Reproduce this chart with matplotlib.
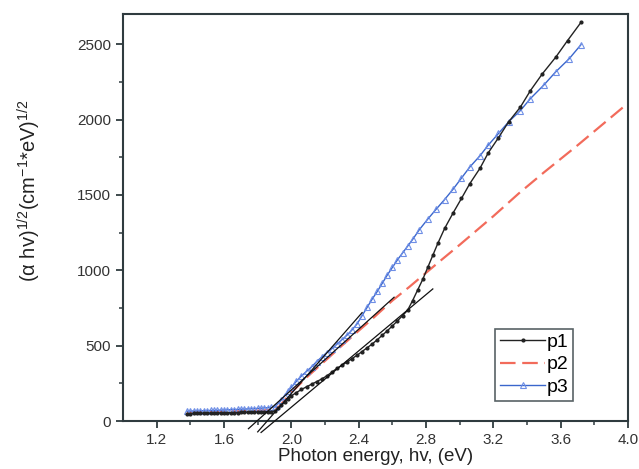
import matplotlib
matplotlib.use("Agg")
import matplotlib.pyplot as plt
from matplotlib.ticker import MultipleLocator, FixedLocator


# Données (énergie en eV, (alpha hv)^1/2)
p1_x = [1.38, 1.40, 1.42, 1.44, 1.46, 1.48, 1.50, 1.52, 1.54, 1.56, 1.58, 1.60, 1.62, 1.64,
        1.66, 1.68, 1.70, 1.72, 1.74, 1.76, 1.78, 1.80, 1.82, 1.84, 1.86, 1.88, 1.90,
        1.92, 1.94, 1.96, 1.98, 2.00, 2.03, 2.06, 2.09, 2.12, 2.15, 2.18, 2.21, 2.24,
        2.27, 2.30, 2.33, 2.36, 2.39, 2.42, 2.45, 2.48, 2.51, 2.54, 2.57, 2.60, 2.63,
        2.66, 2.69, 2.72, 2.75, 2.78, 2.81, 2.84, 2.87, 2.91, 2.96, 3.01, 3.06, 3.12,
        3.17, 3.23, 3.29, 3.36, 3.42, 3.49, 3.57, 3.64, 3.72]
p1_y = [50, 50, 51, 51, 52, 52, 53, 53, 54, 54, 55, 55, 56, 56,
        57, 57, 58, 58, 59, 59, 60, 61, 61, 62, 63, 64, 66,
        85, 105, 128, 150, 168, 190, 210, 228, 245, 262, 280, 300, 325,
        350, 370, 392, 415, 437, 462, 487, 512, 540, 570, 600, 632, 665,
        700, 735, 800, 870, 940, 1020, 1100, 1180, 1278, 1380, 1477, 1576, 1677,
        1781, 1880, 1985, 2083, 2193, 2303, 2414, 2524, 2645]

p2_x = [1.38, 1.46, 1.54, 1.62, 1.70, 1.78, 1.86, 1.90, 1.93, 1.96, 2.00, 2.05, 2.10,
        2.15, 2.20, 2.29, 2.40, 2.47, 2.60, 2.70, 2.87, 3.00, 3.20, 3.35, 3.50, 3.70,
        3.85, 4.00]
p2_y = [58, 60, 62, 64, 66, 69, 73, 76, 100, 140, 190, 245, 300,
        350, 400, 491, 600, 668, 800, 890, 1050, 1170, 1360, 1510, 1650, 1830,
        1970, 2110]

p3_x = [1.38, 1.40, 1.42, 1.44, 1.46, 1.48, 1.50, 1.52, 1.54, 1.56, 1.58, 1.60, 1.62, 1.64,
        1.66, 1.68, 1.70, 1.72, 1.74, 1.76, 1.78, 1.80, 1.82, 1.84, 1.86, 1.88, 1.90,
        1.92, 1.94, 1.96, 1.98, 2.00, 2.03, 2.06, 2.09, 2.12, 2.15, 2.18, 2.21, 2.24,
        2.27, 2.30, 2.33, 2.36, 2.39, 2.42, 2.45, 2.48, 2.51, 2.54, 2.57, 2.60, 2.63,
        2.66, 2.69, 2.72, 2.76, 2.81, 2.86, 2.91, 2.96, 3.01, 3.06, 3.12, 3.17, 3.23,
        3.29, 3.36, 3.42, 3.50, 3.57, 3.65, 3.72]
p3_y = [66, 67, 67, 68, 69, 69, 70, 71, 72, 72, 73, 74, 75, 76,
        77, 78, 79, 80, 81, 82, 83, 85, 86, 88, 89, 91, 94,
        115, 140, 170, 200, 225, 265, 300, 330, 360, 395, 425, 455, 480,
        510, 540, 570, 605, 645, 700, 755, 810, 860, 915, 970, 1020, 1070,
        1115, 1160, 1205, 1270, 1340, 1406, 1470, 1538, 1612, 1686, 1760, 1832, 1908,
        1985, 2060, 2140, 2230, 2317, 2404, 2497]

# Droites d'extrapolation (Tauc) : extrémités
fit_x = [[1.745, 2.61], [1.80, 2.42], [1.82, 2.84]]
fit_y = [[-50, 822], [-71, 720], [-75, 877]]

labels = ["p1", "p2", "p3"]


plt.rcParams["font.family"] = ["Liberation Sans", "DejaVu Sans"]
plt.rcParams["mathtext.default"] = "regular"

frame_color = "#2f3b3f"

fig = plt.figure(figsize=(6.39, 4.69), dpi=100)
ax = fig.add_axes([0.1925, 0.102, 0.7905, 0.868])

ax.plot(p2_x, p2_y, color="#f26b5b", lw=1.6, dashes=(7, 3), label=labels[1], zorder=2)
ax.plot(p3_x, p3_y, color="#3a66cc", lw=1.0, marker="^", markersize=4.5,
        markerfacecolor="none", markeredgecolor="#6f8fe6", markeredgewidth=0.8,
        label=labels[2], zorder=3)
ax.plot(p1_x, p1_y, color="#222222", lw=1.0, marker="o", markersize=2,
        label=labels[0], zorder=4)

for fx, fy in zip(fit_x, fit_y):
    ax.plot(fx, fy, color="#111111", lw=0.9, zorder=5, clip_on=False)

ax.set_xlim(1.0, 4.0)
ax.set_ylim(0, 2700)

ax.xaxis.set_major_locator(FixedLocator([1.2, 1.6, 2.0, 2.4, 2.8, 3.2, 3.6, 4.0]))
ax.xaxis.set_minor_locator(FixedLocator([1.4, 1.8, 2.2, 2.6, 3.0, 3.4, 3.8]))
ax.set_xticklabels(["1.2", "1.6", "2.0", "2.4", "2.8", "3.2", "3.6", "4.0"])
ax.yaxis.set_major_locator(MultipleLocator(500))
ax.yaxis.set_minor_locator(MultipleLocator(250))

ax.tick_params(axis="both", which="major", direction="out", length=5, width=1.3,
               color=frame_color, labelsize=11, labelcolor="#333333")
ax.tick_params(axis="both", which="minor", direction="out", length=3, width=1.1,
               color=frame_color)

for side in ax.spines.values():
    side.set_color(frame_color)
    side.set_linewidth(1.5)

ax.set_xlabel("Photon energy, hv, (eV)", fontsize=13.5, color="#222222", labelpad=1)
ax.set_ylabel("(α hv)$^{1/2}$(cm$^{-1}$*eV)$^{1/2}$", fontsize=14.5, color="#222222")
ax.yaxis.set_label_coords(-0.158, 0.567)

handles, labs = ax.get_legend_handles_labels()
order = [labs.index(l) for l in labels]
leg = ax.legend([handles[i] for i in order], [labs[i] for i in order],
                loc="lower left", bbox_to_anchor=(0.737, 0.05), fontsize=14,
                frameon=True, fancybox=False, handlelength=2.3, handletextpad=0.1,
                borderpad=0.25, labelspacing=0.25, borderaxespad=0)
leg.get_frame().set_edgecolor(frame_color)
leg.get_frame().set_linewidth(1.2)

fig.savefig("out.png", dpi=100)
